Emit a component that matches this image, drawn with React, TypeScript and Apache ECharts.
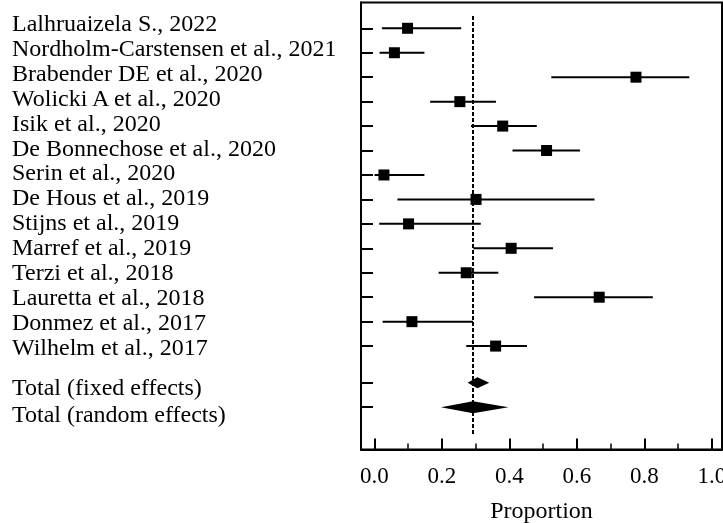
import React, { useEffect, useRef } from "react";
import * as echarts from "echarts";

const studies = [
  "Lalhruaizela S., 2022",
  "Nordholm-Carstensen et al., 2021",
  "Brabender DE et al., 2020",
  "Wolicki A et al., 2020",
  "Isik et al., 2020",
  "De Bonnechose et al., 2020",
  "Serin et al., 2020",
  "De Hous et al., 2019",
  "Stijns et al., 2019",
  "Marref et al., 2019",
  "Terzi et al., 2018",
  "Lauretta et al., 2018",
  "Donmez et al., 2017",
  "Wilhelm et al., 2017",
];
const estimates = [0.098, 0.059, 0.775, 0.253, 0.38, 0.51, 0.028, 0.301, 0.101, 0.405, 0.272, 0.666, 0.111, 0.359];
const lower = [0.022, 0.015, 0.524, 0.165, 0.286, 0.409, 0.0, 0.068, 0.014, 0.293, 0.19, 0.473, 0.024, 0.272];
const upper = [0.257, 0.148, 0.933, 0.36, 0.481, 0.609, 0.148, 0.652, 0.315, 0.529, 0.367, 0.825, 0.292, 0.452];

const totals = ["Total (fixed effects)", "Total (random effects)"];
const totalEst = [0.305, 0.292];
const totalLower = [0.276, 0.197];
const totalUpper = [0.34, 0.397];

const pooledLine = 0.292;
const xTicks = [0, 0.2, 0.4, 0.6, 0.8, 1.0];
const xMinorTicks = [0.1, 0.3, 0.5, 0.7, 0.9];

// layout: row positions (in row units)
const n = studies.length;
const studyRows = studies.map((_, i) => i + 1);
const totalRows = [n + 1.5, n + 2.5];
const labelTotalRows = [n + 1.63, n + 2.71];
const diamondHalf = [5.5, 6];

const labelNames = [...studies, ...totals];
const labelPos = [...studyRows, ...labelTotalRows];

const FONT = "'Liberation Serif', 'Times New Roman', serif";
const GRID_H = 447;

export default function App() {
  const ref = useRef<HTMLDivElement>(null);
  useEffect(() => {
    if (!ref.current) return;
    const chart = echarts.init(ref.current, null, { renderer: "svg" });
    const ciData = studies.map((_, i) => [estimates[i], lower[i], upper[i], studyRows[i]]);
    const sqData = studies.map((_, i) => [estimates[i], studyRows[i]]);
    const diaData = totals.map((_, i) => [totalEst[i], totalLower[i], totalUpper[i], totalRows[i], diamondHalf[i]]);
    chart.setOption({
      animation: false,
      grid: {
        left: 361,
        top: 2.5,
        right: 1,
        bottom: 73.5,
        show: true,
        borderColor: "#000",
        borderWidth: 2,
        backgroundColor: "transparent",
        outerBoundsMode: "none",
        containLabel: false,
      },
      xAxis: [
        {
          type: "value",
          min: -0.04,
          max: 1.03,
          position: "bottom",
          splitLine: { show: false },
          axisLine: { show: true, onZero: false, lineStyle: { color: "#000", width: 2 } },
          axisTick: { show: true, inside: true, length: 11, customValues: xTicks, lineStyle: { color: "#000", width: 2 } },
          axisLabel: {
            show: true,
            customValues: xTicks,
            formatter: (v: number) => v.toFixed(1),
            fontFamily: FONT,
            fontSize: 23,
            color: "#000",
            margin: 14,
            hideOverlap: false,
          },
          name: "Proportion",
          nameLocation: "middle",
          nameGap: 48,
          nameTextStyle: { fontFamily: FONT, fontSize: 24, color: "#000" },
        },
        {
          type: "value",
          min: -0.04,
          max: 1.03,
          position: "top",
          offset: -GRID_H,
          splitLine: { show: false },
          axisLine: { show: false, onZero: false },
          axisTick: { show: true, inside: false, length: 6, customValues: xMinorTicks, lineStyle: { color: "#000", width: 1.5 } },
          axisLabel: { show: false },
        },
      ],
      yAxis: [
        {
          type: "value",
          inverse: true,
          min: -0.055,
          max: 18.23,
          position: "left",
          splitLine: { show: false },
          axisLine: { show: true, onZero: false, lineStyle: { color: "#000", width: 2 } },
          axisTick: { show: true, inside: true, length: 12, customValues: [...studyRows, ...totalRows], lineStyle: { color: "#000", width: 2 } },
          axisLabel: { show: false },
        },
        {
          type: "value",
          inverse: true,
          min: 0.18,
          max: 18.12,
          position: "left",
          splitLine: { show: false },
          axisLine: { show: false, onZero: false },
          axisTick: { show: false },
          axisLabel: {
            show: true,
            customValues: labelPos,
            align: "left",
            margin: 349,
            fontFamily: FONT,
            fontSize: 24,
            color: "#000",
            hideOverlap: false,
            formatter: (v: number) => {
              let best = 0;
              for (let i = 0; i < labelPos.length; i++) {
                if (Math.abs(labelPos[i] - v) < Math.abs(labelPos[best] - v)) best = i;
              }
              return labelNames[best];
            },
          },
        },
      ],
      series: [
        {
          type: "custom",
          xAxisIndex: 0,
          yAxisIndex: 0,
          data: ciData,
          encode: { x: [1, 2], y: 3 },
          renderItem: (params: any, api: any) => {
            const y = api.value(3);
            const a = api.coord([api.value(1), y]);
            const b = api.coord([api.value(2), y]);
            return {
              type: "line",
              shape: { x1: a[0], y1: a[1], x2: b[0], y2: b[1] },
              style: { stroke: "#000", lineWidth: 2 },
            };
          },
          silent: true,
          z: 3,
        },
        {
          type: "scatter",
          xAxisIndex: 0,
          yAxisIndex: 0,
          data: sqData,
          symbol: "rect",
          symbolSize: 11,
          itemStyle: { color: "#000", opacity: 1 },
          z: 4,
        },
        {
          type: "custom",
          xAxisIndex: 0,
          yAxisIndex: 0,
          data: diaData,
          encode: { x: [1, 2], y: 3 },
          renderItem: (params: any, api: any) => {
            const y = api.value(3);
            const h = api.value(4);
            const lo = api.coord([api.value(1), y]);
            const hi = api.coord([api.value(2), y]);
            const c = api.coord([api.value(0), y]);
            return {
              type: "polygon",
              shape: { points: [[lo[0], lo[1]], [c[0], c[1] - h], [hi[0], hi[1]], [c[0], c[1] + h]] },
              style: { fill: "#000" },
            };
          },
          silent: true,
          z: 4,
        },
        {
          type: "line",
          xAxisIndex: 0,
          yAxisIndex: 0,
          data: [],
          markLine: {
            silent: true,
            symbol: ["none", "none"],
            label: { show: false },
            lineStyle: { color: "#000", type: [4, 2], width: 2 },
            data: [[{ coord: [pooledLine, 0.5] }, { coord: [pooledLine, 17.63] }]],
          },
          z: 2,
        },
      ],
    });
    return () => chart.dispose();
  }, []);
  return <div ref={ref} style={{ position: "fixed", left: 0, top: 0, width: 723, height: 523 }} />;
}
